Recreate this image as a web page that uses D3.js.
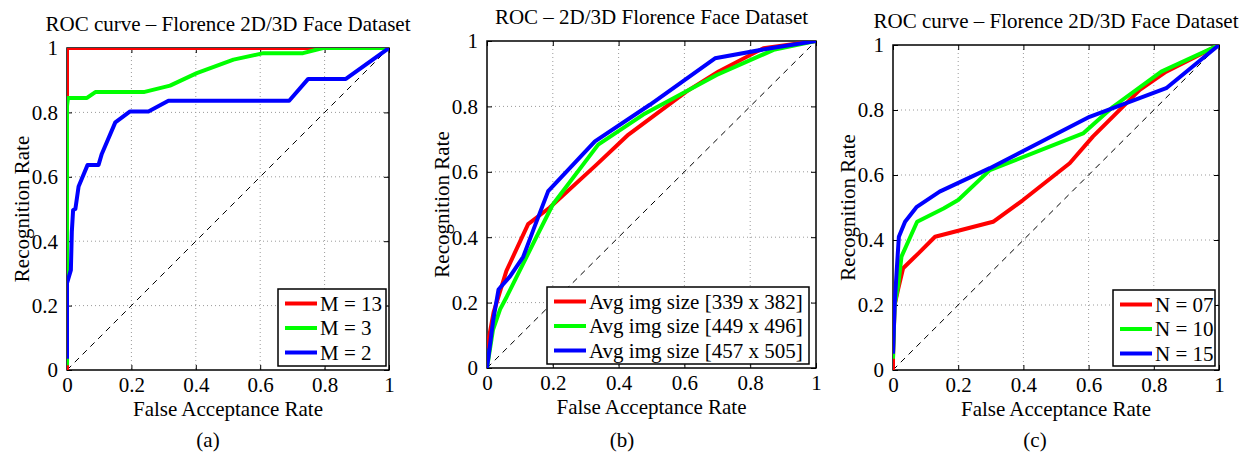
<!DOCTYPE html>
<html>
<head>
<meta charset="utf-8">
<script src="https://cdn.jsdelivr.net/npm/d3@7/dist/d3.min.js"></script>
<style>
  html, body { margin: 0; padding: 0; background: #fff; }
  svg { display: block; }
</style>
</head>
<body>
<svg id="chart" width="1241" height="453"></svg>
<script>
// ---------------- data ----------------
const fprTicks = [0, 0.2, 0.4, 0.6, 0.8, 1];
const rateTicks = [0, 0.2, 0.4, 0.6, 0.8, 1];
const tickLabels = ["0", "0.2", "0.4", "0.6", "0.8", "1"];
const titles = [
  "ROC curve \u2013 Florence 2D/3D Face Dataset",
  "ROC \u2013 2D/3D Florence Face Dataset",
  "ROC curve \u2013 Florence 2D/3D Face Dataset"
];
const captions = ["(a)", "(b)", "(c)"];
const xAxisLabel = "False Acceptance Rate";
const yAxisLabel = "Recognition Rate";

const legendA = ["M = 13", "M = 3", "M = 2"];
const legendB = ["Avg img size [339 x 382]", "Avg img size [449 x 496]", "Avg img size [457 x 505]"];
const legendC = ["N = 07", "N = 10", "N = 15"];

// panel (a): [FAR, recognition rate]
const a_M13 = [[0, 0], [0, 1], [1, 1]];
const a_M3 = [[0, 0.015], [0, 0.82], [0.003, 0.845], [0.062, 0.845], [0.088, 0.863], [0.238, 0.863],
  [0.32, 0.883], [0.403, 0.922], [0.517, 0.964], [0.61, 0.984], [0.733, 0.984], [0.795, 1], [1, 1]];
const a_M2 = [[0, 0.035], [0, 0.27], [0.012, 0.31], [0.015, 0.43], [0.019, 0.497], [0.026, 0.5],
  [0.036, 0.57], [0.064, 0.637], [0.098, 0.637], [0.108, 0.671], [0.15, 0.769], [0.196, 0.803],
  [0.253, 0.803], [0.315, 0.836], [0.69, 0.836], [0.749, 0.904], [0.866, 0.904], [1, 1]];

// panel (b)
const b_339x382 = [[0, 0.06], [0.02, 0.17], [0.059, 0.297], [0.125, 0.44], [0.19, 0.49], [0.333, 0.622],
  [0.43, 0.714], [0.607, 0.846], [0.704, 0.907], [0.84, 0.978], [1, 1]];
const b_449x496 = [[0, 0], [0.018, 0.116], [0.04, 0.18], [0.06, 0.218], [0.15, 0.40], [0.2, 0.5],
  [0.338, 0.683], [0.475, 0.775], [0.698, 0.896], [0.871, 0.973], [1, 1]];
const b_457x505 = [[0, 0], [0.019, 0.147], [0.035, 0.24], [0.07, 0.28], [0.11, 0.34], [0.14, 0.42],
  [0.186, 0.541], [0.328, 0.693], [0.495, 0.805], [0.693, 0.947], [0.861, 0.978], [1, 1]];

// panel (c)
const c_N07 = [[0, 0], [0, 0.035], [0.005, 0.2], [0.016, 0.25], [0.031, 0.313], [0.078, 0.359],
  [0.129, 0.41], [0.307, 0.456], [0.399, 0.523], [0.542, 0.636], [0.613, 0.718], [0.757, 0.862],
  [0.838, 0.918], [1, 1]];
const c_N10 = [[0, 0.035], [0.005, 0.2], [0.016, 0.26], [0.026, 0.349], [0.074, 0.456], [0.155, 0.497],
  [0.2, 0.523], [0.297, 0.615], [0.583, 0.728], [0.675, 0.81], [0.823, 0.918], [1, 1]];
const c_N15 = [[0, 0.05], [0.005, 0.2], [0.011, 0.3], [0.018, 0.41], [0.037, 0.456], [0.073, 0.502],
  [0.143, 0.549], [0.297, 0.621], [0.603, 0.779], [0.838, 0.867], [1, 1]];

const chanceLine = [[0, 0], [1, 1]];

// ---------------- layout / style ----------------
const colors = ["#ff0000", "#00ff00", "#0000ff"];
const FONT = 21;
const FAMILY = "'Liberation Serif', 'Times New Roman', Times, 'DejaVu Serif', serif";

const panels = [
  { box: { l: 67, r: 389, t: 48, b: 370 }, series: [a_M13, a_M3, a_M2], legend: legendA,
    leg: { x: 278, y: 289, w: 108, h: 77 }, capX: 208 },
  { box: { l: 487, r: 816, t: 41, b: 368 }, series: [b_339x382, b_449x496, b_457x505], legend: legendB,
    leg: { x: 547, y: 287, w: 262, h: 77 }, capX: 622 },
  { box: { l: 893, r: 1219, t: 45, b: 370 }, series: [c_N07, c_N10, c_N15], legend: legendC,
    leg: { x: 1113, y: 290, w: 102, h: 76 }, capX: 1035 }
];

const svg = d3.select("#chart").attr("font-family", FAMILY);

function txt(sel) {
  return sel.attr("font-family", FAMILY).attr("font-size", FONT).attr("fill", "#000");
}

panels.forEach((p, i) => {
  const { l, r, t, b } = p.box;
  const x = d3.scaleLinear().domain([0, 1]).range([l, r]);
  const y = d3.scaleLinear().domain([0, 1]).range([b, t]);
  const g = svg.append("g");

  // grid (dotted)
  const grid = g.append("g");
  grid.selectAll("line.gx").data(fprTicks.filter(v => v > 0 && v < 1)).enter().append("line")
    .attr("x1", d => x(d)).attr("x2", d => x(d)).attr("y1", t).attr("y2", b)
    .attr("stroke", "#9a9a9a").attr("stroke-width", 1).attr("stroke-dasharray", "1,3");
  grid.selectAll("line.gy").data(rateTicks.filter(v => v > 0 && v < 1)).enter().append("line")
    .attr("y1", d => y(d)).attr("y2", d => y(d)).attr("x1", l).attr("x2", r)
    .attr("stroke", "#9a9a9a").attr("stroke-width", 1).attr("stroke-dasharray", "1,3");

  // axes with inward ticks on all sides
  const tk = 5;
  const axB = d3.axisBottom(x).tickValues(fprTicks).tickSize(-tk).tickFormat((d, j) => tickLabels[j]);
  const axT = d3.axisTop(x).tickValues(fprTicks).tickSize(-tk).tickFormat("");
  const axL = d3.axisLeft(y).tickValues(rateTicks).tickSize(-tk).tickFormat((d, j) => tickLabels[j]).tickPadding(9);
  const axR = d3.axisRight(y).tickValues(rateTicks).tickSize(-tk).tickFormat("");

  const gB = g.append("g").attr("transform", `translate(0,${b})`).call(axB);
  const gT = g.append("g").attr("transform", `translate(0,${t})`).call(axT);
  const gL = g.append("g").attr("transform", `translate(${l},0)`).call(axL);
  const gR = g.append("g").attr("transform", `translate(${r},0)`).call(axR);
  [gB, gT, gL, gR].forEach(a => {
    a.attr("font-family", FAMILY).attr("font-size", FONT);
    a.select(".domain").remove();
    a.selectAll("line").attr("stroke", "#000").attr("stroke-width", 1);
    txt(a.selectAll("text"));
  });
  gB.selectAll("text").attr("dy", null).attr("y", 22);
  gL.selectAll("text").attr("dy", "0.33em");

  // box
  g.append("rect").attr("x", l).attr("y", t).attr("width", r - l).attr("height", b - t)
    .attr("fill", "none").attr("stroke", "#000").attr("stroke-width", 1.5);

  // clip
  const clipId = "clip" + i;
  svg.append("clipPath").attr("id", clipId).append("rect")
    .attr("x", l).attr("y", t).attr("width", r - l).attr("height", b - t);

  const line = d3.line().x(d => x(d[0])).y(d => y(d[1]));
  const plot = g.append("g").attr("clip-path", `url(#${clipId})`);

  // chance diagonal
  plot.append("path").datum(chanceLine).attr("d", line)
    .attr("fill", "none").attr("stroke", "#000").attr("stroke-width", 1).attr("stroke-dasharray", "6,5");

  p.series.forEach((s, k) => {
    plot.append("path").datum(s).attr("d", line)
      .attr("fill", "none").attr("stroke", colors[k]).attr("stroke-width", 4)
      .attr("stroke-linejoin", "round");
  });

  // title
  txt(g.append("text")).attr("x", (l + r) / 2).attr("y", t - 17).attr("text-anchor", "middle")
    .text(titles[i]);

  // axis labels
  txt(g.append("text")).attr("x", (l + r) / 2).attr("y", b + 46).attr("text-anchor", "middle")
    .text(xAxisLabel);
  txt(g.append("text")).attr("transform", `translate(${l - 38},${(t + b) / 2}) rotate(-90)`)
    .attr("text-anchor", "middle").text(yAxisLabel);

  // legend
  const lg = g.append("g");
  lg.append("rect").attr("x", p.leg.x).attr("y", p.leg.y).attr("width", p.leg.w).attr("height", p.leg.h)
    .attr("fill", "#fff").attr("stroke", "#000").attr("stroke-width", 1.5);
  p.legend.forEach((name, k) => {
    const cy = p.leg.y + 14.5 + k * 24.5;
    lg.append("line").attr("x1", p.leg.x + 7).attr("x2", p.leg.x + 39).attr("y1", cy).attr("y2", cy)
      .attr("stroke", colors[k]).attr("stroke-width", 4);
    txt(lg.append("text")).attr("x", p.leg.x + 42).attr("y", cy + 7).text(name);
  });

  // caption
  txt(svg.append("text")).attr("x", p.capX).attr("y", 447).attr("text-anchor", "middle")
    .text(captions[i]);
});
</script>
</body>
</html>
